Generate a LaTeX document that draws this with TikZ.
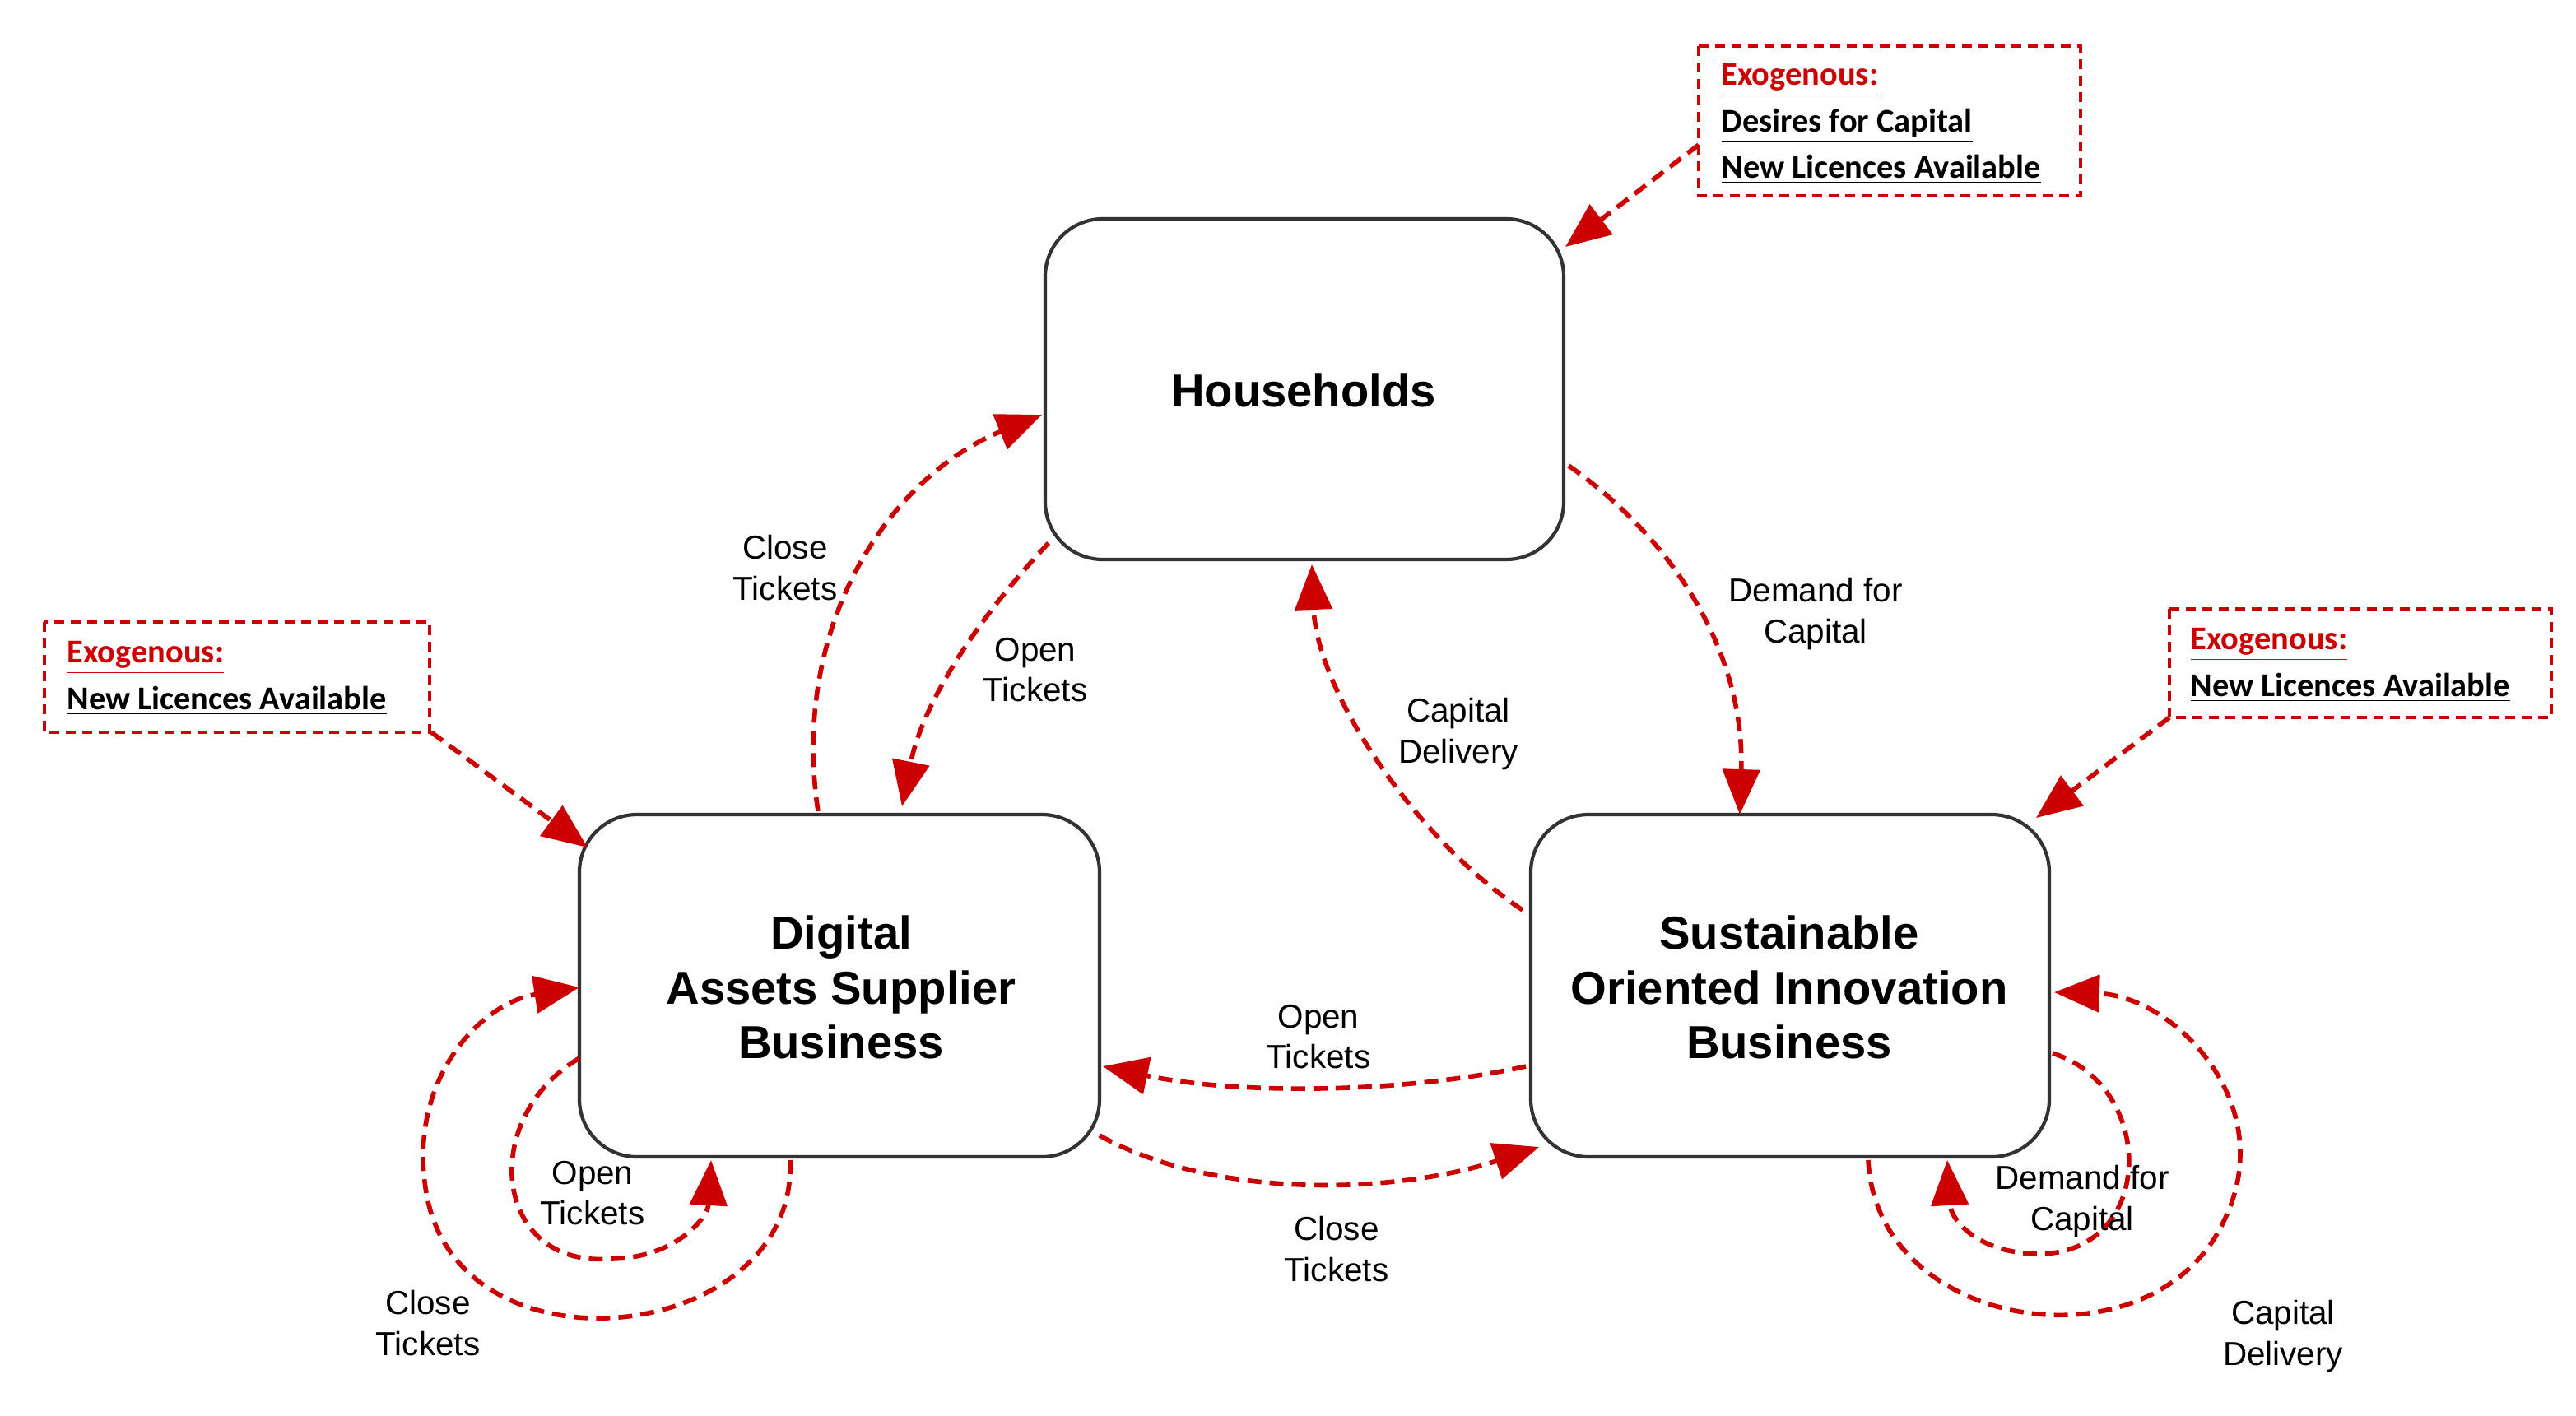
\documentclass[tikz,border=0pt]{standalone}
\usepackage{fontspec}
\setmainfont{Liberation Sans}
\newfontfamily\calfont{Carlito}
\usetikzlibrary{arrows.meta}
\definecolor{rd}{RGB}{204,0,0}
\tikzset{
 ent/.style={draw=black!80,line width=1.2pt,rounded corners=0.7cm,fill=white},
 bt/.style={font=\fontsize{16}{19}\selectfont\bfseries,align=center},
 lab/.style={font=\fontsize{11.5}{14}\selectfont,align=center},
 flow/.style={rd,line width=1.6pt,dash pattern=on 0.17cm off 0.1cm,-{Triangle[length=0.55cm,width=0.45cm]}},
 exo/.style={draw=rd,line width=0.9pt,dash pattern=on 0.12cm off 0.08cm,font=\calfont\fontsize{11.5}{14}\selectfont\bfseries,align=left,inner sep=0pt}
}
\begin{document}
\begin{tikzpicture}[x=0.02cm,y=-0.02cm]
\useasboundingbox (0,0) rectangle (1565,860);
\draw[ent] (635,133) rectangle (950,340);
\draw[ent] (352,495) rectangle (668,703);
\draw[ent] (930,495) rectangle (1245,703);
\node[bt] (hh) at (792,237) {Households};
\node[bt] (da) at (511,600) {Digital\\Assets Supplier\\Business};
\node[bt] (so) at (1087,600) {Sustainable\\Oriented Innovation\\Business};
% exogenous boxes
\draw[exo] (1032,28) rectangle (1264,119);
\node[exo,draw=none,anchor=north west] (e1) at (1045,38) {\textcolor{rd}{\underline{Exogenous:}}\\[2pt]\underline{Desires for Capital}\\[2pt]\underline{New Licences Available}};
\draw[exo] (27,378) rectangle (261,445);
\node[exo,draw=none,anchor=north west] (e2) at (40,389) {\textcolor{rd}{\underline{Exogenous:}}\\[2pt]\underline{New Licences Available}};
\draw[exo] (1318,370) rectangle (1550,436);
\node[exo,draw=none,anchor=north west] (e3) at (1330,381) {\textcolor{rd}{\underline{Exogenous:}}\\[2pt]\underline{New Licences Available}};
\coordinate (e1o) at (1032,88); \coordinate (e2o) at (262,445); \coordinate (e3o) at (1318,436);
\coordinate (e1t) at (951,150); \coordinate (e2t) at (357,515); \coordinate (e3t) at (1237,497);
\draw[flow] (e1o) -- (e1t);
\draw[flow] (e2o) -- (e2t);
\draw[flow] (e3o) -- (e3t);
% flows
\draw[flow] (497,493) .. controls (480,380) and (540,290) .. (633,252);
\draw[flow] (637,330) .. controls (590,380) and (560,430) .. (548,490);
\draw[flow] (953,283) .. controls (1020,330) and (1060,400) .. (1057,495);
\draw[flow] (925,553) .. controls (860,510) and (800,420) .. (797,343);
\draw[flow] (927,648) .. controls (850,665) and (750,665) .. (670,648);
\draw[flow] (668,690) .. controls (740,730) and (850,725) .. (935,697);
\draw[flow] (352,643) .. controls (290,680) and (300,770) .. (370,765) .. controls (410,765) and (430,740) .. (432,705);
\draw[flow] (480,705) .. controls (485,815) and (285,840) .. (260,730) .. controls (245,660) and (290,610) .. (352,600);
\draw[flow] (1247,640) .. controls (1310,660) and (1310,760) .. (1240,762) .. controls (1200,762) and (1185,740) .. (1183,705);
\draw[flow] (1135,705) .. controls (1140,810) and (1310,835) .. (1352,740) .. controls (1385,670) and (1320,605) .. (1248,603);
% labels
\node[lab] (l1) at (477,345) {Close\\Tickets};
\node[lab] (l2) at (629,407) {Open\\Tickets};
\node[lab] (l3) at (1103,373) {Demand for\\Capital};
\node[lab] (l4) at (886,446) {Capital\\Delivery};
\node[lab] (l5) at (801,630) {Open\\Tickets};
\node[lab] (l6) at (812,759) {Close\\Tickets};
\node[lab] (l7) at (360,725) {Open\\Tickets};
\node[lab] (l8) at (260,804) {Close\\Tickets};
\node[lab] (l9) at (1265,730) {Demand for\\Capital};
\node[lab] (l10) at (1387,812) {Capital\\Delivery};
\end{tikzpicture}
\end{document}
